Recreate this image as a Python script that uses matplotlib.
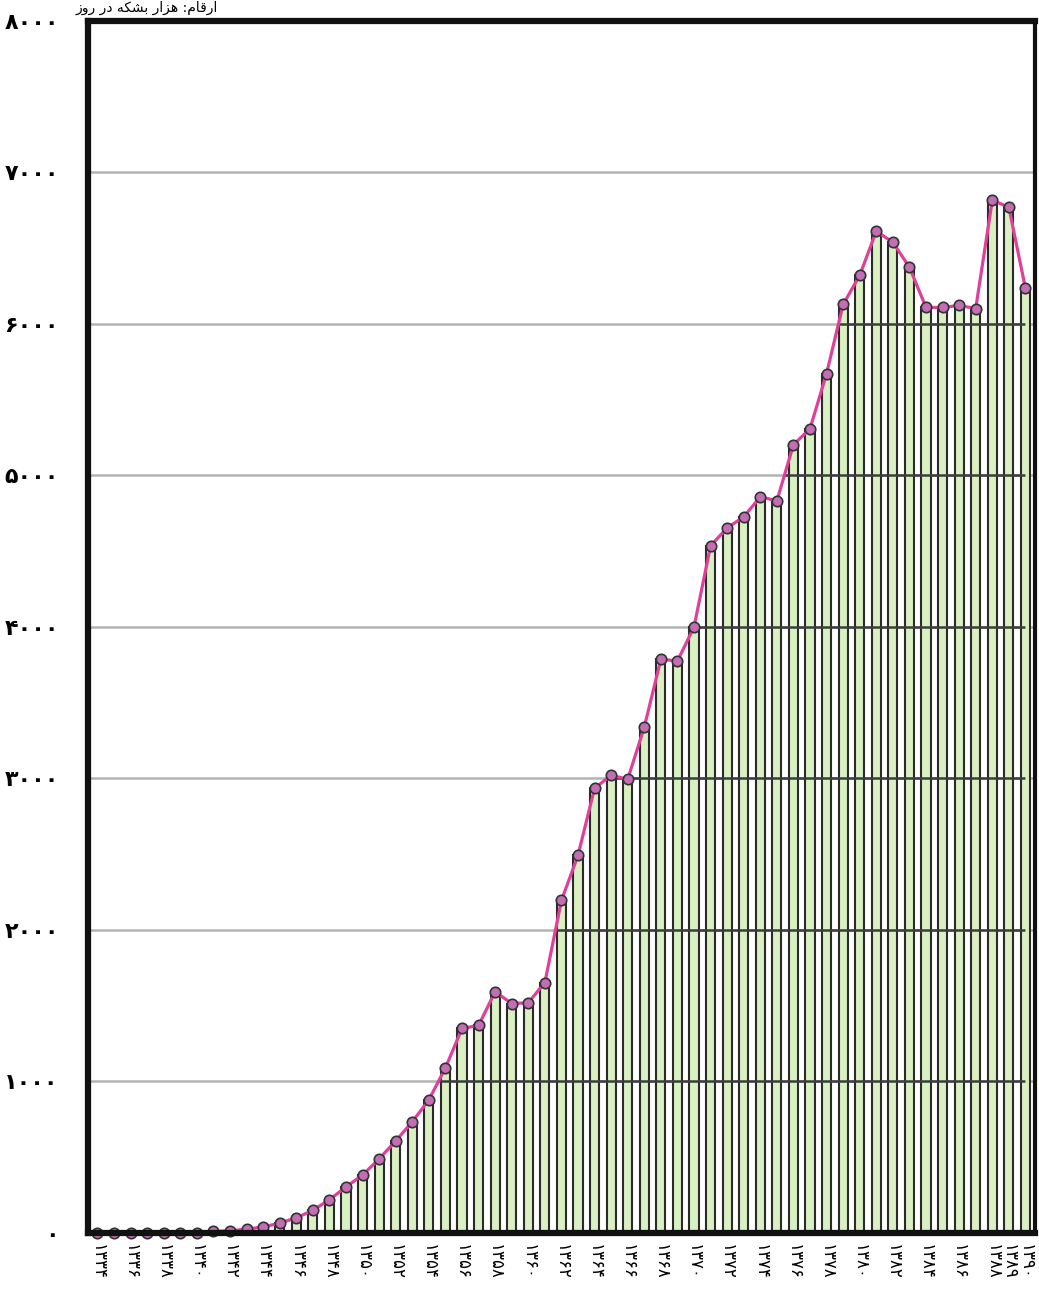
import numpy as np
import matplotlib.pyplot as plt
from matplotlib.patches import Polygon

# persian digits are in DejaVu Sans
plt.rcParams['font.family'] = ['DejaVu Sans']

years = list(range(1334, 1391))
production = [0, 0, 0, 0, 0, 0, 0, 10, 15, 25,
              40, 65, 100, 150, 220, 304, 383, 489, 608, 734,
              879, 1090, 1350, 1370, 1593, 1514, 1520, 1653, 2195, 2493,
              2936, 3021, 2995, 3339, 3788, 3775, 4000, 4536, 4654, 4727,
              4859, 4833, 5203, 5309, 5673, 6129, 6321, 6612, 6539, 6374,
              6109, 6109, 6122, 6102, 6817, 6770, 6235]
y_ticks = [0, 1000, 2000, 3000, 4000, 5000, 6000, 7000, 8000]
x_ticks = list(range(1334, 1389, 2)) + [1389, 1390]

# "ارقام: هزار بشکه در روز" in shaped forms, visual order
unit_text = ('\uFEAF\uFEED\uFEAD \uFEAD\uFEA9 \uFEEA\uFB91\uFEB8\uFE91 '
             '\uFEAD\uFE8D\uFEB0\uFEEB :\uFEE1\uFE8E\uFED7\uFEAD\uFE8D')

fa = str.maketrans('0123456789', '۰۱۲۳۴۵۶۷۸۹')


def fa_num(n):
    return str(n).translate(fa)


fig = plt.figure(figsize=(10.39, 12.93), dpi=100)
ax = fig.add_axes([0.0847, 0.0464, 0.9115, 0.9374])

ax.bar(years, production, width=0.55, color='#d9f0c2',
       edgecolor='#2a2a2a', linewidth=1.5, zorder=2)

x0, x1 = 1333.43, 1390.58
grid = y_ticks[1:-1]
ax.hlines(grid, x0, x1, color='#b4b4b4', lw=1.8, zorder=1)
dark = ax.hlines(grid, x0, x1, color='#3c3c3c', lw=1.8, zorder=3)
# dark part of grid only under the curve
area = Polygon(list(zip(years, production)) + [(years[-1], 0), (years[0], 0)],
               closed=True, transform=ax.transData, fc='none', ec='none')
ax.add_patch(area)
dark.set_clip_path(area)

ax.plot(years, production, color='#e0409a', lw=2.3, marker='o', ms=7.5,
        mfc='#c26db4', mec='#333333', mew=1.2, zorder=4, clip_on=False)

ax.set_xlim(x0, x1)
ax.set_ylim(0, 8000)
ax.set_yticks(y_ticks)
ax.set_yticklabels([fa_num(v) for v in y_ticks], fontsize=16, fontweight='bold')
ax.set_xticks(x_ticks)
ax.set_xticklabels([fa_num(v) for v in x_ticks], rotation=270, fontsize=12)
ax.tick_params(axis='y', length=0, pad=21)
ax.tick_params(axis='x', length=0, pad=8)

for side in ['top', 'left', 'bottom']:
    ax.spines[side].set_linewidth(4.5)
ax.spines['right'].set_linewidth(3)
for s in ax.spines.values():
    s.set_color('#111111')
    s.set_zorder(5)

fig.text(0.21, 0.9905, unit_text, fontsize=10, ha='right', va='baseline')

fig.savefig('out.png', dpi=100, facecolor='white')
